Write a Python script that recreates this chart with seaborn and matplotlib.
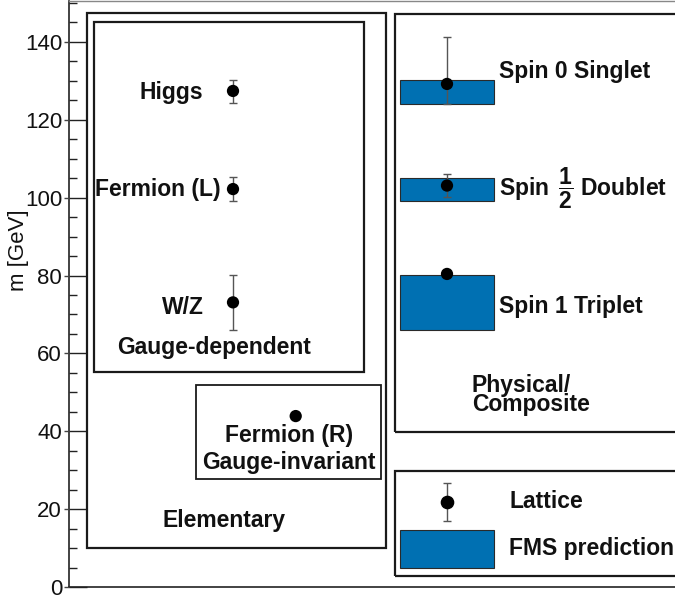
import matplotlib
matplotlib.use("Agg")
import matplotlib.pyplot as plt
import seaborn as sns
import pandas as pd
from matplotlib.patches import Rectangle

# ---------------- data ----------------
lattice_names = ["Higgs", "Fermion (L)", "W/Z", "Fermion (R)",
                 "Spin 0 Singlet", "Spin 1/2 Doublet", "Spin 1 Triplet"]
lattice_group = ["gauge-dependent", "gauge-dependent", "gauge-dependent",
                 "gauge-invariant", "physical", "physical", "physical"]
lattice_mass = [127.4, 102.2, 73.1, 43.9, 129.2, 103.1, 80.4]
lattice_err_lo = [3.1, 3.0, 7.1, 0.0, 5.1, 3.0, 0.0]
lattice_err_hi = [2.8, 3.0, 7.0, 0.0, 12.1, 2.9, 0.0]

fms_names = ["Spin 0 Singlet", "Spin 1/2 Doublet", "Spin 1 Triplet"]
fms_low = [124.1, 99.1, 66.0]
fms_high = [130.2, 105.1, 80.1]

y_ticks = [0, 20, 40, 60, 80, 100, 120, 140]

# ---------------- layout (not data) ----------------
column_x = {"gauge-dependent": 164, "gauge-invariant": 226.7, "physical": 378}
BLUE = "#0070B2"
BAR_W = 94

sns.set_theme(style="ticks")
plt.rcParams["font.family"] = ["Liberation Sans", "DejaVu Sans"]
plt.rcParams["mathtext.fontset"] = "custom"
plt.rcParams["mathtext.rm"] = "Liberation Sans:bold"
plt.rcParams["mathtext.bf"] = "Liberation Sans:bold"
plt.rcParams["mathtext.it"] = "Liberation Sans:bold"
plt.rcParams["mathtext.default"] = "rm"

fig = plt.figure(figsize=(6.75, 6.0), dpi=100)
pos = [69 / 675, 13 / 600, (690 - 69) / 675, 586 / 600]
ax = fig.add_axes(pos)
ax.set_xlim(0, 621)
ax.set_ylim(0, 150.5)

df = pd.DataFrame({"name": lattice_names, "group": lattice_group,
                   "mass": lattice_mass, "lo": lattice_err_lo, "hi": lattice_err_hi})
df["x"] = df["group"].map(column_x)

fms = pd.DataFrame({"name": fms_names, "low": fms_low, "high": fms_high})
fms["x"] = column_x["physical"]

# FMS prediction bars
ax.bar(fms["x"], fms["high"] - fms["low"], bottom=fms["low"], width=BAR_W,
       color=BLUE, edgecolor="#2a2a2a", linewidth=0.8, zorder=2)

# lattice error bars + points
ax.errorbar(df["x"], df["mass"], yerr=[df["lo"], df["hi"]], fmt="none",
            ecolor="#555555", elinewidth=1.0, capsize=2.6, capthick=1.0, zorder=4)
sns.scatterplot(data=df, x="x", y="mass", color="black", s=78,
                edgecolor="none", ax=ax, zorder=5, legend=False)

# ---------------- boxes ----------------
def box(x0, y0, x1, y1, lw=1.6):
    ax.add_patch(Rectangle((x0, y0), x1 - x0, y1 - y0, fill=False,
                           edgecolor="#1a1a1a", linewidth=lw, zorder=1,
                           clip_on=False))

box(18, 9.9, 316.7, 147.4)      # Elementary
box(25, 55.2, 295.3, 145.2)     # Gauge-dependent
box(126.7, 27.8, 312, 52.0, lw=1.3)  # Gauge-invariant
box(326, 39.8, 640, 147.2)      # Physical / Composite
box(326, 2.8, 640, 29.8)        # legend

# ---------------- texts ----------------
tk = dict(fontsize=16.5, fontweight="bold", color="#111111", zorder=6)
ax.text(102, 127.0, "Higgs", ha="center", va="center", **tk)
ax.text(89, 102.0, "Fermion (L)", ha="center", va="center", **tk)
ax.text(114, 71.7, "W/Z", ha="center", va="center", **tk)
ax.text(145, 61.6, "Gauge-dependent", ha="center", va="center", **tk)
ax.text(220, 39.0, "Fermion (R)", ha="center", va="center", **tk)
ax.text(219.7, 31.9, "Gauge-invariant", ha="center", va="center", **tk)
ax.text(155, 17.2, "Elementary", ha="center", va="center", **tk)

ax.text(430, 132.5, "Spin 0 Singlet", ha="left", va="center", **tk)
ax.text(430, 102.3, r"Spin $\,\dfrac{1}{2}$ Doublet", ha="left", va="center", **tk)
ax.text(430, 72.0, "Spin 1 Triplet", ha="left", va="center", **tk)
ax.text(402.7, 49.3, "Physical/\nComposite", ha="left", va="center",
        linespacing=0.82, **tk)

# legend symbols
ax.errorbar([column_x["physical"]], [21.9], yerr=[[4.9], [4.9]], fmt="o",
            color="black", markersize=8.8, ecolor="#555555", elinewidth=1.0,
            capsize=2.6, capthick=1.0, zorder=5)
ax.add_patch(Rectangle((column_x["physical"] - BAR_W / 2, 4.8), BAR_W, 9.8,
                       facecolor=BLUE, edgecolor="#2a2a2a", linewidth=0.8, zorder=2))
ax.text(440, 21.9, "Lattice", ha="left", va="center", **tk)
ax.text(440, 10.0, "FMS prediction", ha="left", va="center", **tk)

# ---------------- axes styling ----------------
ax.set_xticks([])
ax.set_xlabel("")
ax.set_ylabel("")
ax.set_yticks(y_ticks)
ax.set_yticklabels([str(v) for v in y_ticks])
ax.yaxis.set_minor_locator(matplotlib.ticker.MultipleLocator(5))
ax.tick_params(axis="y", which="major", direction="in", length=13, width=1.0,
               labelsize=16, pad=5, color="#222222", labelcolor="#111111")
ax.tick_params(axis="y", which="minor", direction="in", length=6, width=1.0,
               color="#222222")
ax.spines["right"].set_visible(False)
ax.spines["top"].set_color("#888888")
ax.spines["top"].set_linewidth(1.0)
ax.spines["left"].set_color("#222222")
ax.spines["left"].set_linewidth(1.2)
ax.spines["bottom"].set_color("#222222")
ax.spines["bottom"].set_linewidth(1.2)

# short outward stubs on the major ticks (overlay axis, no labels)
ax2 = fig.add_axes(pos, frameon=False)
ax2.set_ylim(ax.get_ylim())
ax2.set_xticks([])
ax2.set_yticks(y_ticks)
ax2.tick_params(axis="y", which="major", direction="out", length=3.5, width=1.0,
                labelleft=False, color="#444444")
ax2.patch.set_visible(False)

ax.text(-0.082, 0.575, "m [GeV]", transform=ax.transAxes, rotation=90,
        ha="center", va="center", fontsize=16, color="#111111")

fig.savefig("out.png", dpi=100)
